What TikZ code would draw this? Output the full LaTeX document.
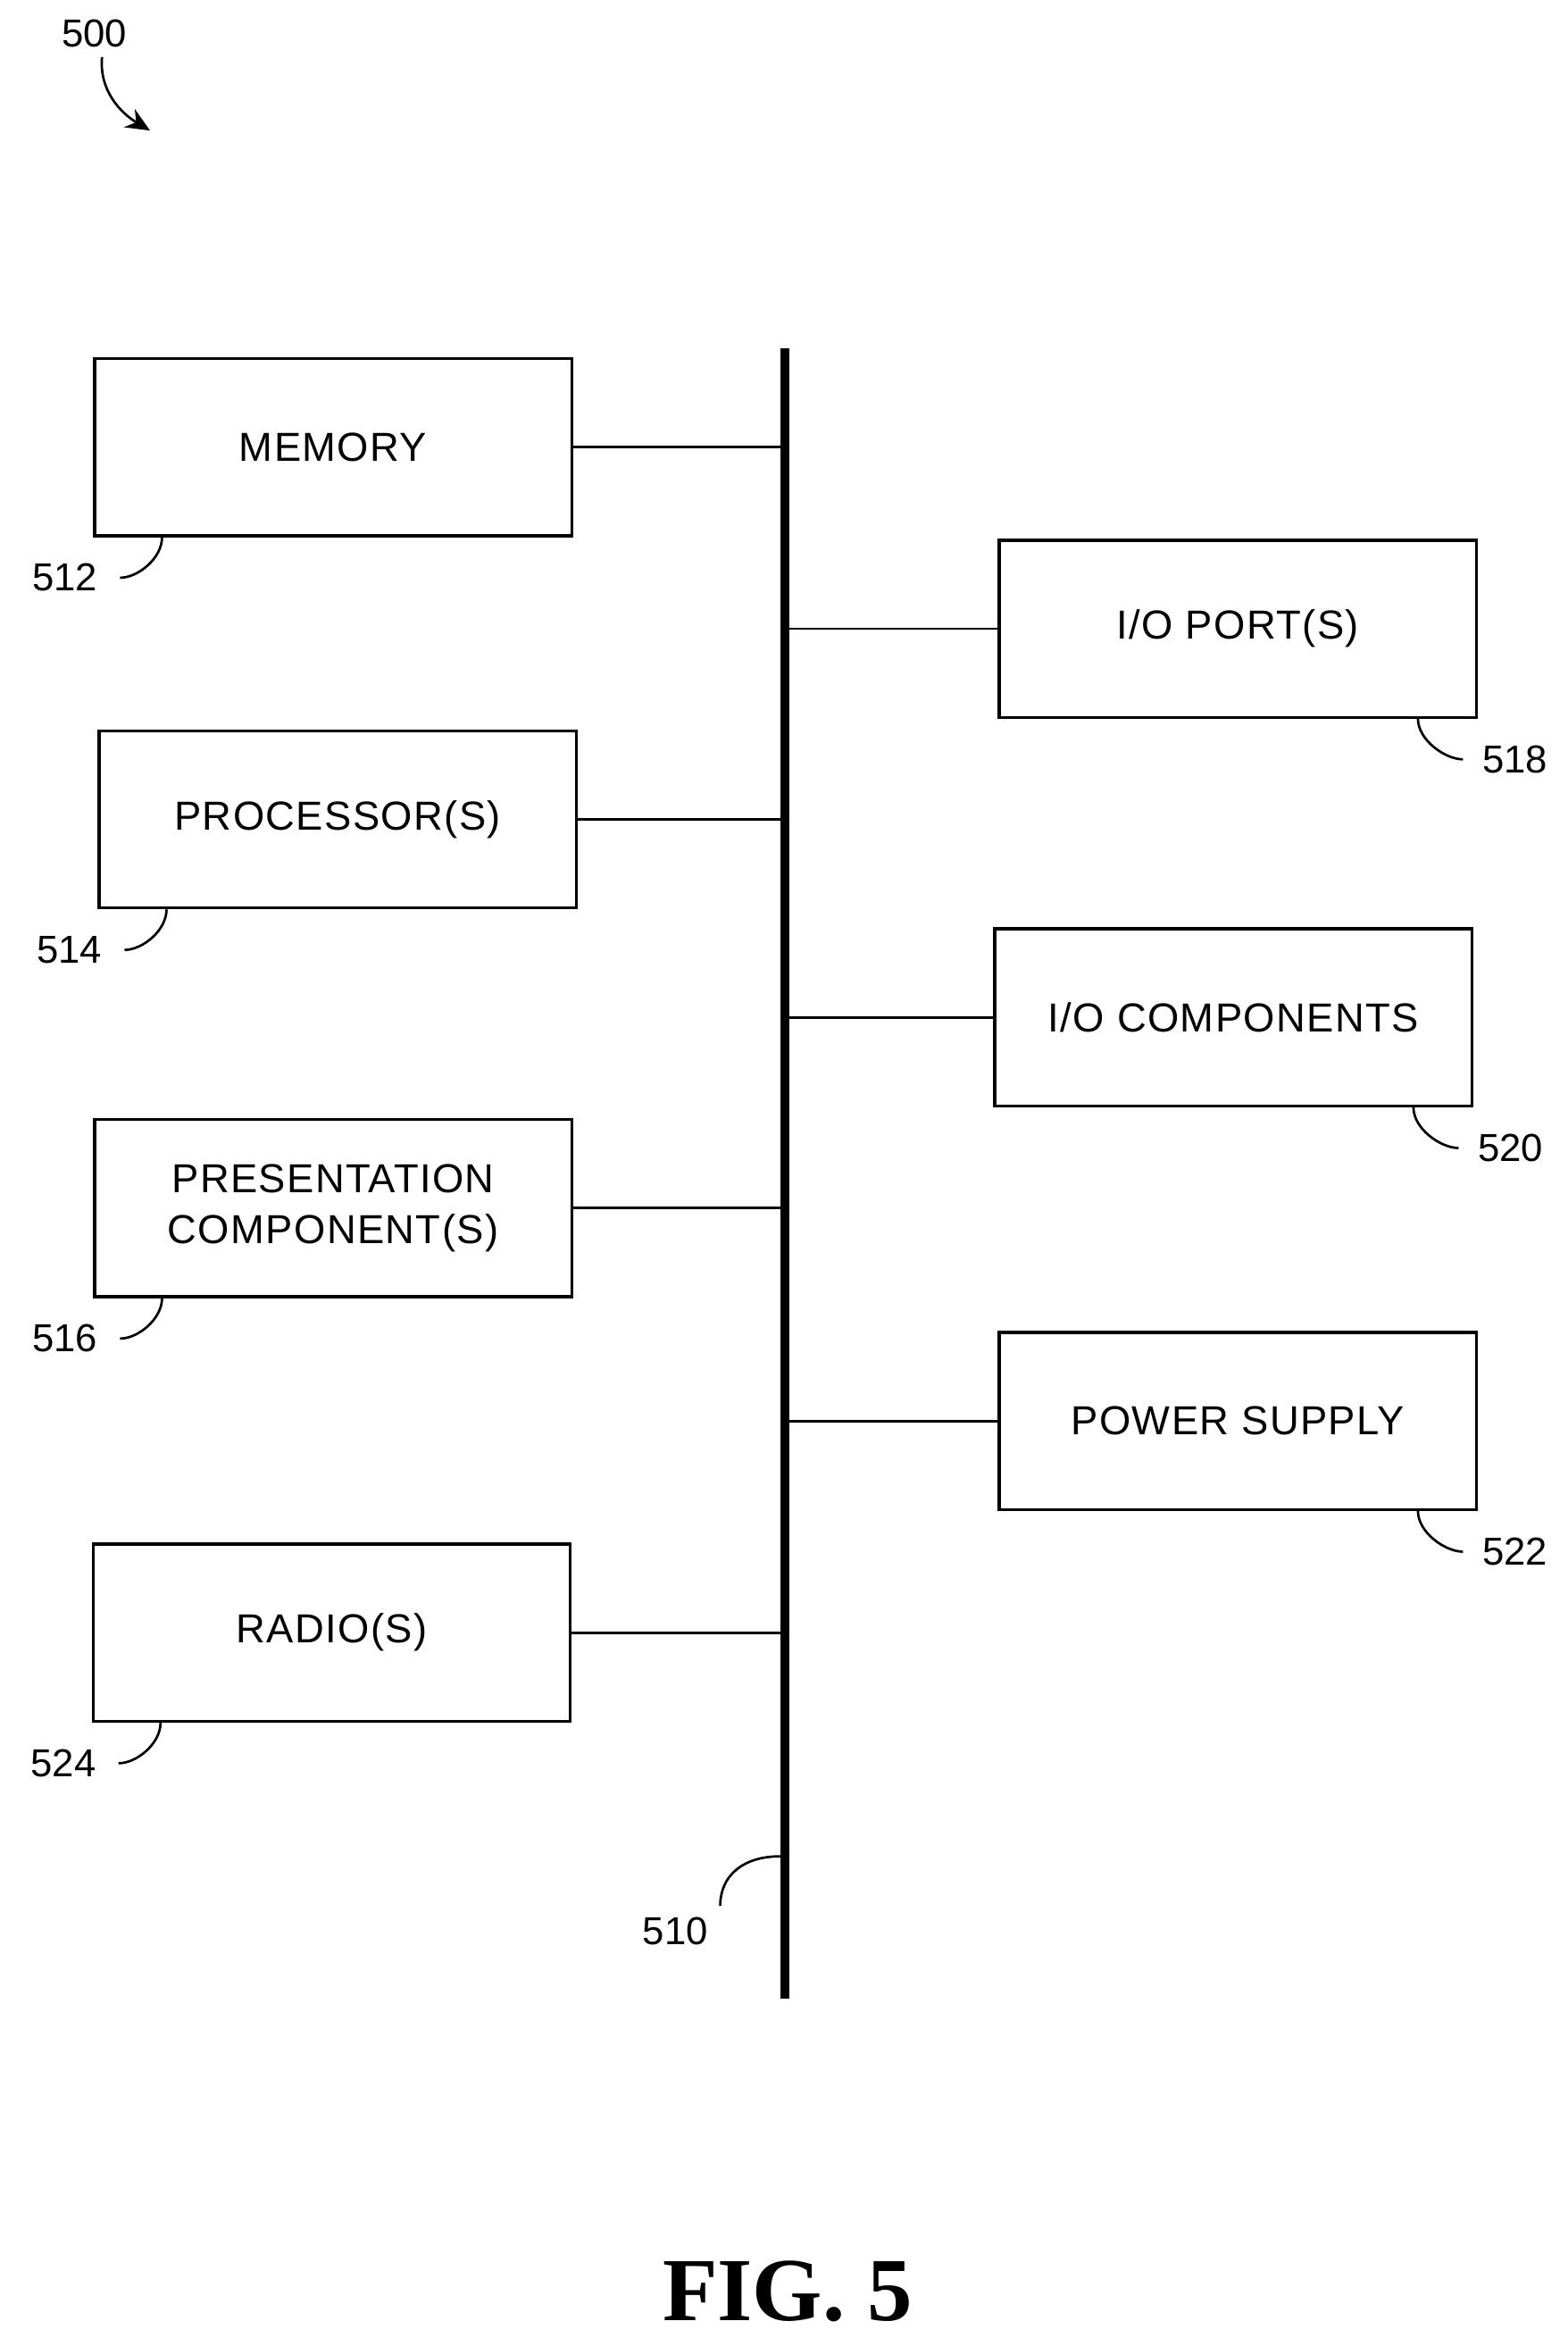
\documentclass[tikz,border=0pt]{standalone}
\usetikzlibrary{arrows.meta}
\usepackage{fontspec}
\setmainfont{Liberation Sans}
\newfontfamily\figfont{Liberation Serif}
\begin{document}
\begin{tikzpicture}[x=0.5pt,y=-0.5pt,
 box/.style={draw,line width=1pt,minimum width=159pt,minimum height=59pt,inner sep=0,align=center,font=\fontsize{13.5}{17}\selectfont\addfontfeature{LetterSpace=3}},
 num/.style={font=\fontsize{13}{15}\selectfont},
 ln/.style={line width=0.8pt},
 hook/.style={line width=0.8pt}]
\useasboundingbox (0,0) rectangle (1045,1558);
\node[box] (mem) at (222,298) {MEMORY};
\node[box] (proc) at (225,546) {PROCESSOR(S)};
\node[box] (pres) at (222,805) {PRESENTATION\\COMPONENT(S)};
\node[box] (rad) at (221,1088) {RADIO(S)};
\node[box] (iop) at (825,419) {I/O PORT(S)};
\node[box] (ioc) at (822,678) {I/O COMPONENTS};
\node[box] (pow) at (825,947) {POWER SUPPLY};
\coordinate (bt) at (523,232);
\coordinate (bb) at (523,1332);
\draw[line width=3pt] (bt) -- (bb);
\foreach \n in {mem,proc,pres,rad}{\draw[ln] (\n.east) -- (\n.east -| bt);}
\foreach \n in {iop,ioc,pow}{\draw[ln] (\n.west) -- (\n.west -| bt);}
\foreach \n/\t in {mem/512,proc/514,pres/516,rad/524}{
 \draw[hook] ([xshift=23pt]\n.south west) .. controls +(0,14) and +(12,0) .. ++(-28,27) coordinate (h\t);
 \node[num,anchor=east] (l\t) at ([xshift=-4pt]h\t) {\t};}
\foreach \n/\t in {iop/518,ioc/520,pow/522}{
 \draw[hook] ([xshift=-20pt]\n.south east) .. controls +(0,14) and +(-12,0) .. ++(30,27) coordinate (h\t);
 \node[num,anchor=west] (l\t) at ([xshift=3pt]h\t) {\t};}
\draw[hook] (520,1237) .. controls (495,1237) and (480,1250) .. (480,1270) coordinate (h510);
\node[num] (l510) at (450,1287) {510};
\node[num] (l500) at (63,22) {500};
\coordinate (a500) at (100,87);
\draw[hook,-{Stealth[length=8pt,width=7pt]}] (68,38) .. controls (66,60) and (80,75) .. (a500);
\node[font=\figfont\bfseries\fontsize{30}{36}\selectfont] (fig) at (525,1527) {FIG. 5};
\end{tikzpicture}
\end{document}
